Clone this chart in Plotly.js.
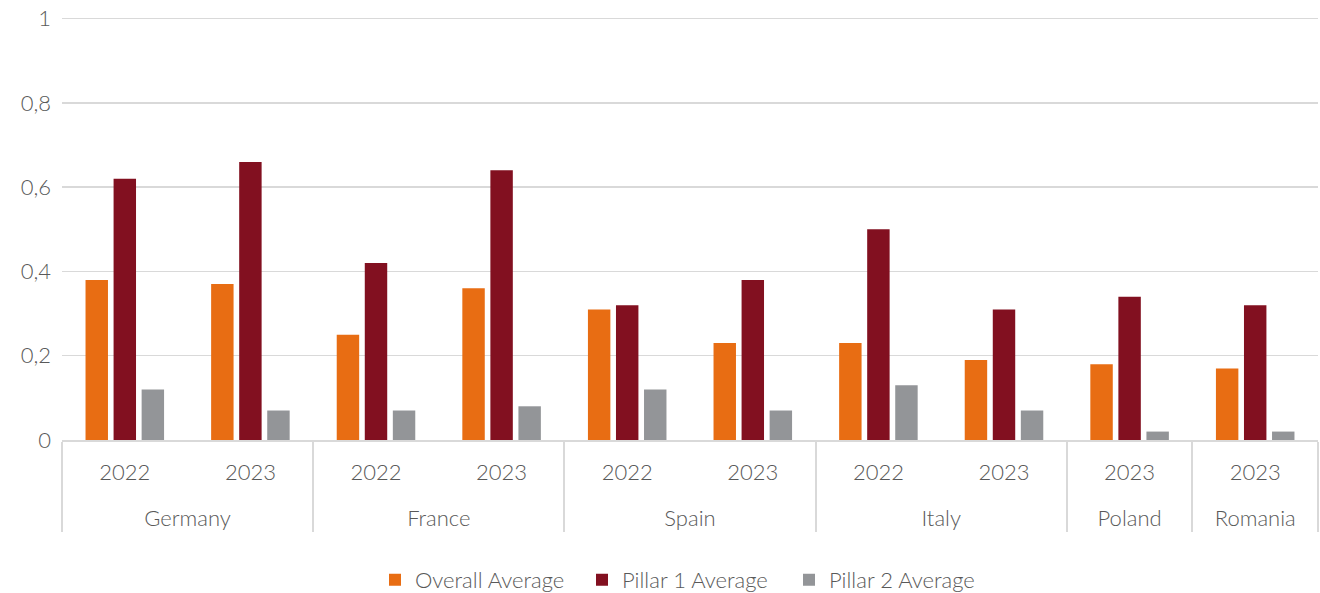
<!DOCTYPE html>
<html>
<head>
<meta charset="utf-8">
<script src="https://cdn.plot.ly/plotly-3.0.1.min.js"></script>
<style>html,body{margin:0;padding:0;background:#fff;}#chart{width:1320px;height:593px;}</style>
</head>
<body>
<div id="chart"></div>
<script>
const countries = ["Germany","Germany","France","France","Spain","Spain","Italy","Italy","Poland","Romania"];
const years = ["2022","2023","2022","2023","2022","2023","2022","2023","2023","2023"];
const overallAverage = [0.38,0.37,0.25,0.36,0.31,0.23,0.23,0.19,0.18,0.17];
const pillar1Average = [0.62,0.66,0.42,0.64,0.32,0.38,0.50,0.31,0.34,0.32];
const pillar2Average = [0.12,0.07,0.07,0.08,0.12,0.07,0.13,0.07,0.02,0.02];
const seriesNames = ["Overall Average","Pillar 1 Average","Pillar 2 Average"];
const colors = ["#E86D13","#821020","#939598"];

// outer labels get a leading line break to space the two label rows like the reference
const x = [countries.map(c => "<br>" + c), years];
const data = [overallAverage, pillar1Average, pillar2Average].map((v,i)=>({
  type:"bar", x:x, y:v, name:seriesNames[i],
  marker:{color:colors[i]}, hoverinfo:"y"
}));

const font = {family:"Lato, 'Open Sans', sans-serif", size:22, color:"#595959", weight:300};
const layout = {
  width:1320, height:593,
  margin:{l:62, r:2, t:17, b:153},
  paper_bgcolor:"#fff", plot_bgcolor:"#fff",
  font:font,
  separators:",.",
  barmode:"group", bargap:0.33, bargroupgap:0.2,
  showlegend:true,
  legend:{orientation:"h", xref:"container", x:375/1320, xanchor:"left", yref:"container", y:0.022, yanchor:"middle",
          font:font, traceorder:"normal", entrywidth:162, itemwidth:30},
  xaxis:{type:"multicategory", showline:true, linecolor:"#D9D9D9", linewidth:2,
         showdividers:true, dividercolor:"#D9D9D9", dividerwidth:2, automargin:false,
         tickfont:font, showgrid:false, ticks:"", ticklabelstandoff:12},
  yaxis:{range:[0,1.004], dtick:0.2, tick0:0, showgrid:true, gridcolor:"#D9D9D9", gridwidth:1.5,
         zeroline:false, showline:false, tickfont:font, ticklabelstandoff:10, ticks:"", automargin:false}
};
Plotly.newPlot("chart", data, layout, {displayModeBar:false, staticPlot:true});
</script>
</body>
</html>
